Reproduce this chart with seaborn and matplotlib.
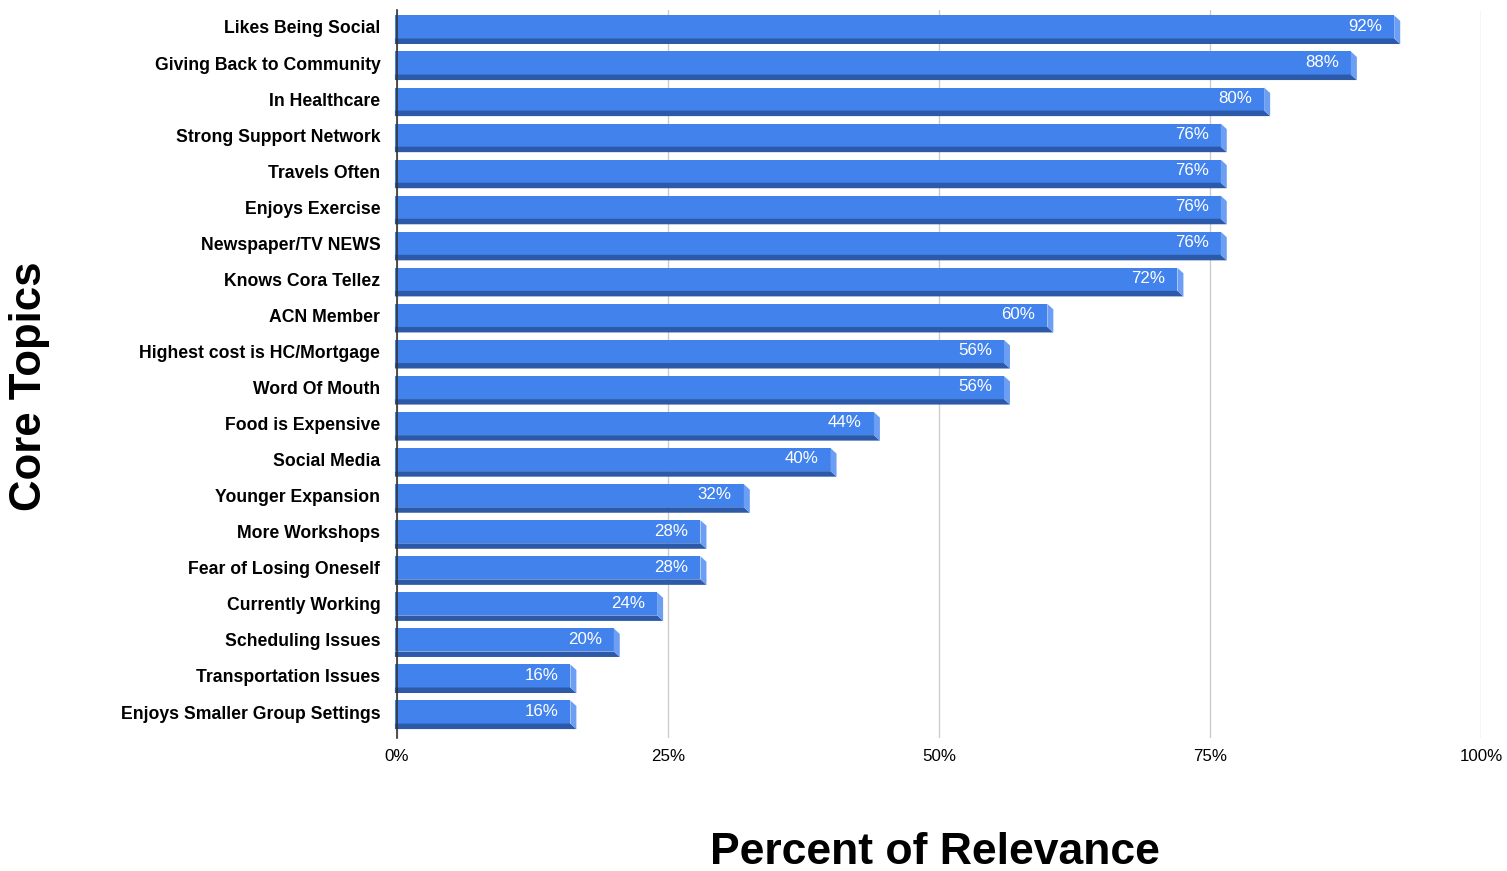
import matplotlib
matplotlib.use("Agg")
import matplotlib.pyplot as plt
import seaborn as sns
import pandas as pd
from matplotlib.patches import Polygon

categories = ["Likes Being Social", "Giving Back to Community", "In Healthcare",
              "Strong Support Network", "Travels Often", "Enjoys Exercise",
              "Newspaper/TV NEWS", "Knows Cora Tellez", "ACN Member",
              "Highest cost is HC/Mortgage", "Word Of Mouth", "Food is Expensive",
              "Social Media", "Younger Expansion", "More Workshops",
              "Fear of Losing Oneself", "Currently Working", "Scheduling Issues",
              "Transportation Issues", "Enjoys Smaller Group Settings"]
values = [92, 88, 80, 76, 76, 76, 76, 72, 60, 56, 56, 44, 40, 32, 28, 28, 24, 20, 16, 16]
xticks = [0, 25, 50, 75, 100]
xticklabels = ["0%", "25%", "50%", "75%", "100%"]

df = pd.DataFrame({"topic": categories, "pct": values})

sns.set_theme(style="white")
plt.rcParams["font.family"] = ["Liberation Sans", "DejaVu Sans"]
plt.rcParams["text.color"] = "black"
plt.rcParams["xtick.color"] = "black"
plt.rcParams["ytick.color"] = "black"

fig = plt.figure(figsize=(15.07, 8.71), dpi=100)
ax = fig.add_axes([0.2634, 0.1527, 0.7193, 0.8358])

FRONT = "#4282ED"
DARK = "#2C59A8"
SIDE = "#6C9EF4"

sns.barplot(data=df, y="topic", x="pct", orient="h", color=FRONT,
            saturation=1, width=0.64, ax=ax, zorder=3, linewidth=0)

ax.set_xlim(0, 100)
ax.set_ylim(19.72, -0.47)

# pixel to data conversions
px_x = 100 / 1084.0
px_y = 1 / 36.05
dx = 6 * px_x
dy = 5.5 * px_y

for p in ax.patches[:]:
    x0 = p.get_x() - 2 * px_x
    p.set_x(x0)
    p.set_width(p.get_width() + 2 * px_x)
    w = p.get_width()
    top = p.get_y()
    bot = top + p.get_height()
    xe = x0 + w
    # bottom dark strip
    ax.add_patch(Polygon([(x0, bot), (xe, bot), (xe + dx, bot + dy), (x0, bot + dy)],
                         closed=True, facecolor=DARK, edgecolor="none", zorder=3,
                         clip_on=False))
    # right side face
    ax.add_patch(Polygon([(xe, top), (xe + dx, top + dy), (xe + dx, bot + dy), (xe, bot)],
                         closed=True, facecolor=SIDE, edgecolor="none", zorder=3,
                         clip_on=False))
    p.set_clip_on(False)

for i, v in enumerate(values):
    ax.text(v - 12 * px_x, i - 0.02, f"{v}%", color="white", fontsize=12.2,
            ha="right", va="center", zorder=5)

ax.set_xticks(xticks)
ax.set_xticklabels(xticklabels, fontsize=12.2)
ax.tick_params(axis="x", length=0, pad=8)
ax.tick_params(axis="y", length=0, pad=12)
for lab in ax.get_yticklabels():
    lab.set_fontweight("bold")
    lab.set_fontsize(12.7)

ax.grid(axis="x", color="#CCCCCC", linewidth=1, zorder=0)
ax.grid(axis="y", visible=False)
for s in ["top", "right", "bottom"]:
    ax.spines[s].set_visible(False)
ax.spines["left"].set_color("#333333")
ax.spines["left"].set_linewidth(1.2)
ax.spines["left"].set_zorder(4)

ax.set_xlabel("")
ax.set_ylabel("")
fig.text(935 / 1507, 1 - 852 / 871, "Percent of Relevance", fontsize=32,
         fontweight="bold", ha="center", va="center")
fig.text(30 / 1507, 1 - 386 / 871, "Core Topics", fontsize=31.5,
         fontweight="bold", ha="center", va="center", rotation=90)

fig.savefig("out.png", dpi=100)
